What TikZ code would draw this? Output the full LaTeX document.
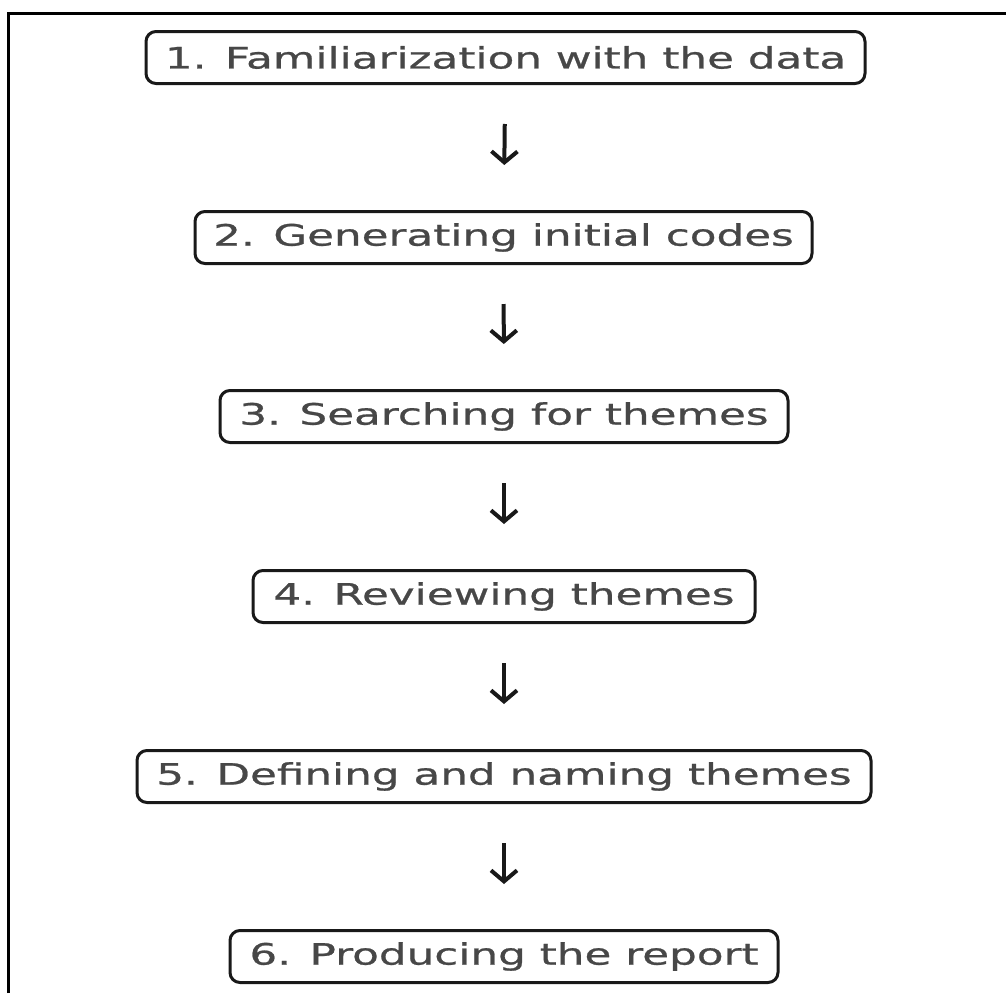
\documentclass[tikz,border=0pt]{standalone}
\usepackage{fontspec}
\setmainfont{DejaVu Sans}[FakeStretch=1.48,FakeBold=0.8]
\usetikzlibrary{arrows.meta}
\definecolor{txtgray}{HTML}{474747}
\tikzset{
  stagebox/.style={draw=black!90, line width=3pt, rounded corners=10pt,
    minimum height=52pt, inner xsep=12pt, text=txtgray,
    font=\fontsize{29.5pt}{34pt}\selectfont, anchor=center},
  flowarrow/.style={draw=black!90, line width=4pt, -{Straight Barb[length=11pt,width=26pt,line width=4pt]},
    shorten <=39pt, shorten >=45pt},
  framestyle/.style={line width=2.8pt, black}
}
\begin{document}
\begin{tikzpicture}[x=1pt,y=-1pt]
\useasboundingbox (0,0) rectangle (1006,993);
\draw[framestyle] (8.5,993) -- (8.5,13.5) -- (1006,13.5);
\node[stagebox, minimum width=719pt] (b1) at (505.5,57.5) {1. Familiarization with the data};
\node[stagebox, minimum width=617pt] (b2) at (503.5,237.5) {2. Generating initial codes};
\node[stagebox, minimum width=568pt] (b3) at (504,416.5) {3. Searching for themes};
\node[stagebox, minimum width=502pt] (b4) at (504,596.5) {4. Reviewing themes};
\node[stagebox, minimum width=734pt] (b5) at (504,776.5) {5. Defining and naming themes};
\node[stagebox, minimum width=548pt] (b6) at (504,956.5) {6. Producing the report};
\draw[flowarrow] (b1) -- (b2);
\draw[flowarrow] (b2) -- (b3);
\draw[flowarrow] (b3) -- (b4);
\draw[flowarrow] (b4) -- (b5);
\draw[flowarrow] (b5) -- (b6);
\end{tikzpicture}
\end{document}
